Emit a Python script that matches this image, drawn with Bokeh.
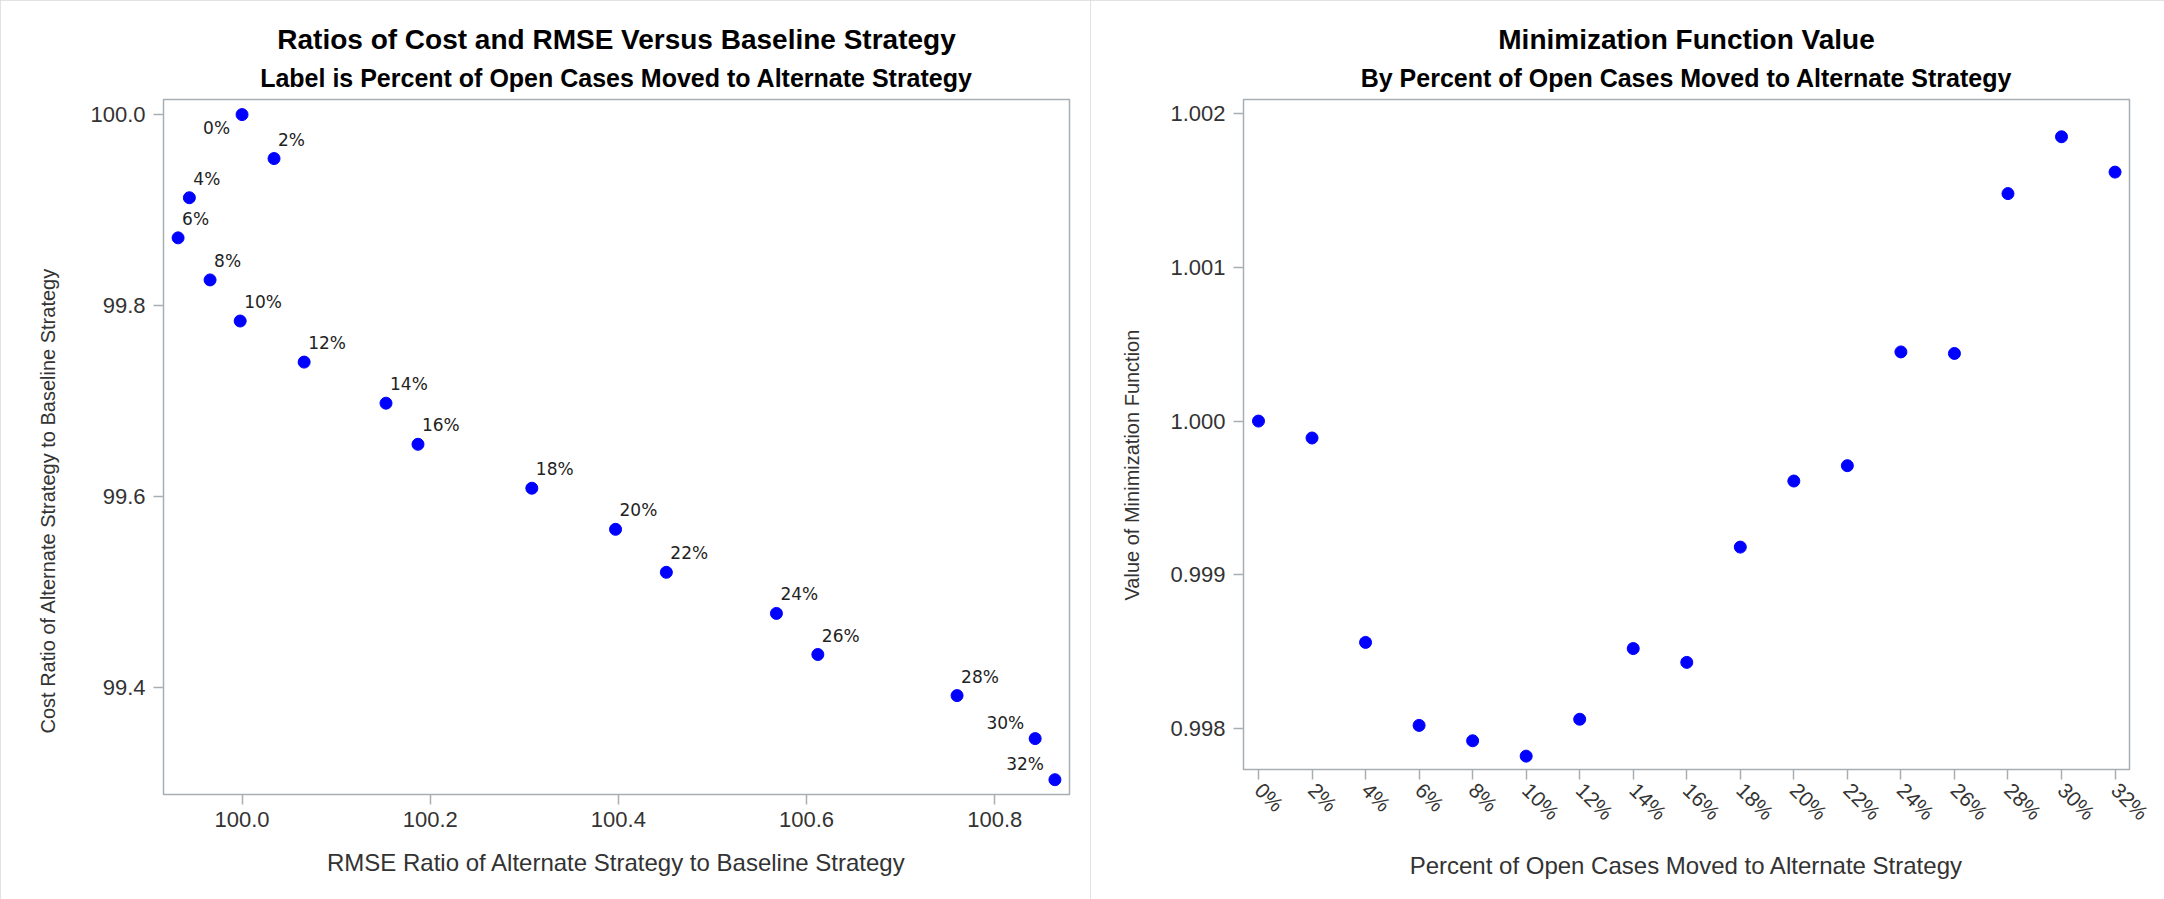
import math
from bokeh.plotting import figure
from bokeh.models import (Range1d, FixedTicker, PrintfTickFormatter, ColumnDataSource,
                          LabelSet, Title)
from bokeh.core.properties import value
from bokeh.layouts import row
from bokeh.embed import file_html
from bokeh.resources import INLINE

# ---------------- data ----------------
pct_moved = [0, 2, 4, 6, 8, 10, 12, 14, 16, 18, 20, 22, 24, 26, 28, 30, 32]
pct_labels = ["0%", "2%", "4%", "6%", "8%", "10%", "12%", "14%", "16%", "18%",
              "20%", "22%", "24%", "26%", "28%", "30%", "32%"]
rmse_ratio = [100.000, 100.034, 99.944, 99.932, 99.966, 99.998, 100.066, 100.153,
              100.187, 100.308, 100.397, 100.451, 100.568, 100.612, 100.760,
              100.843, 100.864]
cost_ratio = [100.000, 99.954, 99.913, 99.871, 99.827, 99.784, 99.741, 99.698,
              99.655, 99.609, 99.566, 99.521, 99.478, 99.435, 99.392, 99.347,
              99.304]
min_value = [1.00000, 0.99989, 0.99856, 0.99802, 0.99792, 0.99782, 0.99806,
             0.99852, 0.99843, 0.99918, 0.99961, 0.99971, 1.00045, 1.00044,
             1.00148, 1.00185, 1.00162]

left_x_ticks = [100.0, 100.2, 100.4, 100.6, 100.8]
left_y_ticks = [99.4, 99.6, 99.8, 100.0]
right_y_ticks = [0.998, 0.999, 1.000, 1.001, 1.002]

# labels drawn to the left of their point instead of upper right
left_placed_below = ["0%"]
left_placed_above = ["30%", "32%"]

# ---------------- styles ----------------
FONT = "Liberation Sans"
TXT = "#333333"
AXC = "#a7aeb3"
BLUE = "#0000ff"


def style(p):
    for ax in (p.xaxis[0], p.yaxis[0]):
        ax.axis_line_color = None
        ax.major_tick_line_color = AXC
        ax.major_tick_line_width = 1.5
        ax.major_tick_in = 0
        ax.major_tick_out = 10
        ax.minor_tick_line_color = None
        ax.major_label_text_font = FONT
        ax.major_label_text_font_size = "22px"
        ax.major_label_text_color = TXT
        ax.axis_label_text_font = FONT
        ax.axis_label_text_font_style = "normal"
        ax.axis_label_text_font_size = "24px"
        ax.axis_label_text_color = TXT
    p.xaxis[0].major_label_standoff = 7
    p.yaxis[0].major_label_standoff = 8
    p.xgrid.grid_line_color = None
    p.ygrid.grid_line_color = None
    p.outline_line_color = AXC
    p.outline_line_width = 1.5
    p.background_fill_color = "white"
    p.border_fill_color = "white"
    p.styles = {"outline": "2px solid #d9d9d9", "outline-offset": "-2px"}


def add_titles(p, main, sub):
    p.add_layout(Title(text=sub, align="center", text_font=FONT, text_font_size="25px",
                       text_font_style="bold", text_color="black", standoff=15), "above")
    p.add_layout(Title(text=main, align="center", text_font=FONT, text_font_size="28px",
                       text_font_style="bold", text_color="black", standoff=0), "above")


def add_ylabel(p, text, offset, standoff):
    p.add_layout(Title(text=text, align="left", offset=offset, text_font=FONT,
                       text_font_size="20px", text_font_style="normal", text_color=TXT,
                       standoff=standoff), "left")


# ---------------- left chart ----------------
p1 = figure(frame_width=906, frame_height=695,
            min_border_left=163, min_border_right=21, min_border_top=98, min_border_bottom=106,
            x_range=Range1d(99.9165, 100.8795), y_range=Range1d(99.2885, 100.0158),
            output_backend="svg", toolbar_location=None, title=None)
style(p1)
p1.xaxis[0].ticker = FixedTicker(ticks=left_x_ticks)
p1.yaxis[0].ticker = FixedTicker(ticks=left_y_ticks)
p1.xaxis[0].formatter = PrintfTickFormatter(format="%.1f")
p1.yaxis[0].formatter = PrintfTickFormatter(format="%.1f")
p1.xaxis[0].axis_label = "RMSE Ratio of Alternate Strategy to Baseline Strategy"
p1.xaxis[0].axis_label_standoff = 19
add_titles(p1, "Ratios of Cost and RMSE Versus Baseline Strategy",
           "Label is Percent of Open Cases Moved to Alternate Strategy")
add_ylabel(p1, "Cost Ratio of Alternate Strategy to Baseline Strategy", 61, 58)

src1 = ColumnDataSource(dict(x=rmse_ratio, y=cost_ratio, lab=pct_labels))
p1.scatter("x", "y", source=src1, size=12, color=BLUE, line_color=BLUE)


def subset(names, keep):
    idx = [i for i, l in enumerate(pct_labels) if (l in names) == keep]
    return ColumnDataSource(dict(x=[rmse_ratio[i] for i in idx],
                                 y=[cost_ratio[i] for i in idx],
                                 lab=[pct_labels[i] for i in idx]))


lab_kw = dict(x="x", y="y", text="lab", text_font=value("DejaVu Sans"),
              text_font_size="17px", text_color="#222222", text_baseline="alphabetic")
p1.add_layout(LabelSet(source=subset(left_placed_below + left_placed_above, False),
                       x_offset=4, y_offset=13, text_align="left", **lab_kw))
p1.add_layout(LabelSet(source=subset(left_placed_below, True),
                       x_offset=-12, y_offset=-19, text_align="right", **lab_kw))
p1.add_layout(LabelSet(source=subset(left_placed_above, True),
                       x_offset=-11, y_offset=10, text_align="right", **lab_kw))

# ---------------- right chart ----------------
p2 = figure(frame_width=886, frame_height=670,
            min_border_left=153, min_border_right=35, min_border_top=99, min_border_bottom=130,
            x_range=Range1d(-0.56, 32.54), y_range=Range1d(0.997733, 1.0020924),
            output_backend="svg", toolbar_location=None, title=None)
style(p2)
p2.xaxis[0].ticker = FixedTicker(ticks=pct_moved)
p2.xaxis[0].major_label_overrides = {v: l for v, l in zip(pct_moved, pct_labels)}
p2.xaxis[0].major_label_orientation = -math.pi / 4
p2.xaxis[0].major_label_text_font_size = "21px"
p2.yaxis[0].ticker = FixedTicker(ticks=right_y_ticks)
p2.yaxis[0].formatter = PrintfTickFormatter(format="%.3f")
p2.xaxis[0].axis_label = "Percent of Open Cases Moved to Alternate Strategy"
p2.xaxis[0].axis_label_standoff = 17
add_titles(p2, "Minimization Function Value",
           "By Percent of Open Cases Moved to Alternate Strategy")
add_ylabel(p2, "Value of Minimization Function", 169, 50)

src2 = ColumnDataSource(dict(x=pct_moved, y=min_value))
p2.scatter("x", "y", source=src2, size=12, color=BLUE, line_color=BLUE)

layout = row(p1, p2)
open("out.html", "w").write(file_html(layout, INLINE))
